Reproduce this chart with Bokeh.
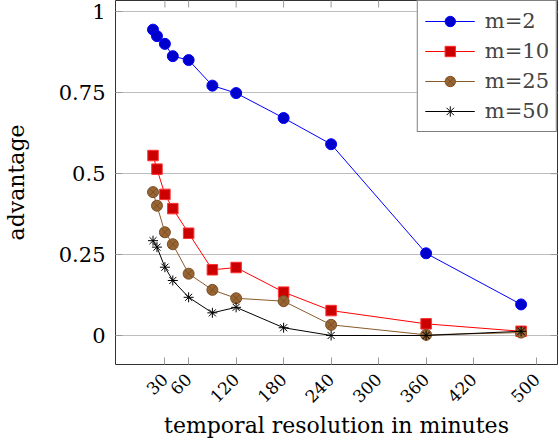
import math
from bokeh.plotting import figure
from bokeh.models import Range1d, FixedTicker, Legend, LegendItem
from bokeh.embed import file_html
from bokeh.resources import INLINE

# data
minutes = [15, 20, 30, 40, 60, 90, 120, 180, 240, 360, 480]
m2 = [0.945, 0.925, 0.901, 0.863, 0.851, 0.772, 0.749, 0.672, 0.591, 0.254, 0.096]
m10 = [0.556, 0.514, 0.436, 0.392, 0.316, 0.203, 0.210, 0.134, 0.077, 0.036, 0.013]
m25 = [0.443, 0.401, 0.319, 0.282, 0.191, 0.141, 0.115, 0.106, 0.033, 0.002, 0.009]
m50 = [0.293, 0.273, 0.211, 0.170, 0.118, 0.070, 0.087, 0.024, 0.0, 0.0, 0.013]
x_ticks = [30, 60, 120, 180, 240, 300, 360, 420, 500]
y_ticks = [0, 0.25, 0.5, 0.75, 1]
y_labels = {0: "0", 0.25: "0.25", 0.5: "0.5", 0.75: "0.75", 1: "1"}

FONT = "DejaVu Serif"
FS = "21px"
TICK_COLOR = "#9a9a9a"

x_range = Range1d(-32.4, 526)
y_range = Range1d(-0.0896, 1.035)

p = figure(width=559, height=443, output_backend="svg", toolbar_location=None,
           x_range=x_range, y_range=y_range,
           min_border_left=112, min_border_right=2, min_border_top=0, min_border_bottom=79)
p.background_fill_color = "white"
p.border_fill_color = "white"
p.outline_line_color = "#333333"
p.outline_line_width = 1

p.xgrid.visible = False
p.ygrid.ticker = FixedTicker(ticks=y_ticks)
p.ygrid.grid_line_color = "#bdbdbd"
p.ygrid.grid_line_width = 1

def style_axis(ax, ticks):
    ax.ticker = FixedTicker(ticks=ticks)
    ax.axis_line_color = None
    ax.major_tick_in = 7
    ax.major_tick_out = 0
    ax.major_tick_line_color = TICK_COLOR
    ax.minor_tick_line_color = None
    ax.major_label_text_font = FONT
    ax.major_label_text_font_size = FS
    ax.major_label_text_color = "black"
    ax.axis_label_text_font = FONT
    ax.axis_label_text_font_size = "22px"
    ax.axis_label_text_font_style = "normal"
    ax.axis_label_text_color = "black"

xa = p.xaxis[0]
style_axis(xa, x_ticks)
xa.major_label_text_font_size = "17px"
xa.major_label_orientation = math.pi / 4
xa.major_label_standoff = 12
xa.axis_label = "temporal resolution in minutes"
xa.axis_label_standoff = 2

ya = p.yaxis[0]
style_axis(ya, y_ticks)
ya.major_label_overrides = y_labels
ya.major_label_standoff = 10
ya.axis_label = "advantage"
ya.axis_label_standoff = 27

# inward ticks on the top and right edges (half of each dash is clipped by the frame)
p.scatter(x_ticks, [y_range.end] * len(x_ticks), marker="dash", angle=math.pi / 2,
          size=14, line_color=TICK_COLOR, line_width=1)
p.scatter([x_range.end] * len(y_ticks), y_ticks, marker="dash",
          size=14, line_color=TICK_COLOR, line_width=1)

r2l = p.line(minutes, m2, line_color="#0000ff", line_width=1)
r2m = p.scatter(minutes, m2, marker="circle", size=11, fill_color="#0000cc", line_color="#0000ff")
r10l = p.line(minutes, m10, line_color="#ff0000", line_width=1)
r10m = p.scatter(minutes, m10, marker="square", size=10.5, fill_color="#cc0000", line_color="#ff3030")
r25l = p.line(minutes, m25, line_color="#8a5a2b", line_width=1)
r25m = p.scatter(minutes, m25, marker="circle_x", size=11, fill_color="#996633", line_color="#7a4f26")
r50l = p.line(minutes, m50, line_color="black", line_width=1)
r50m = p.scatter(minutes, m50, marker="asterisk", size=10, line_color="black", line_width=1)

legend = Legend(items=[
    LegendItem(label="m=2", renderers=[r2l, r2m]),
    LegendItem(label="m=10", renderers=[r10l, r10m]),
    LegendItem(label="m=25", renderers=[r25l, r25m]),
    LegendItem(label="m=50", renderers=[r50l, r50m]),
], location="top_right")
legend.margin = 0
legend.padding = 7
legend.spacing = 4
legend.glyph_width = 50
legend.glyph_height = 26
legend.label_height = 26
legend.label_text_font = FONT
legend.label_text_font_size = FS
legend.label_standoff = 10
legend.border_line_color = "black"
legend.border_line_width = 1
legend.background_fill_color = "white"
legend.background_fill_alpha = 1
p.add_layout(legend, "center")

open("out.html", "w").write(file_html(p, INLINE))
